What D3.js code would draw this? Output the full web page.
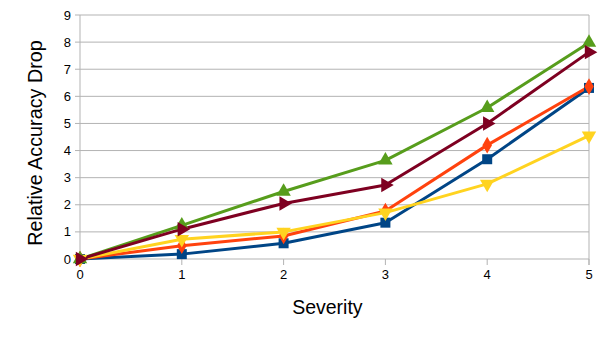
<!DOCTYPE html>
<html>
<head>
<meta charset="utf-8">
<script src="https://cdn.jsdelivr.net/npm/d3@7"></script>
<style>
  body { margin: 0; background: #fff; }
  svg { display: block; font-family: "Liberation Sans", Arial, sans-serif; }
</style>
</head>
<body>
<svg id="chart" width="605" height="340"></svg>
<script>
const severity = [0, 1, 2, 3, 4, 5];
const yTicks = [0, 1, 2, 3, 4, 5, 6, 7, 8, 9];

const seriesBlue = [0, 0.18, 0.58, 1.34, 3.68, 6.31];
const seriesOrange = [0, 0.49, 0.85, 1.77, 4.2, 6.36];
const seriesYellow = [0, 0.73, 1.0, 1.71, 2.77, 4.55];
const seriesGreen = [0, 1.24, 2.49, 3.64, 5.58, 7.98];
const seriesRed = [0, 1.1, 2.05, 2.73, 5.0, 7.63];

const series = [
    { values: seriesBlue, color: "#004586", marker: "square" },
    { values: seriesOrange, color: "#ff420e", marker: "diamond" },
    { values: seriesYellow, color: "#ffd320", marker: "down" },
    { values: seriesGreen, color: "#579d1c", marker: "up" },
    { values: seriesRed, color: "#7e0021", marker: "right" }
];

const svg = d3.select("#chart");
const plotLeft = 80, plotRight = 589, plotTop = 15, plotBottom = 259;

const x = d3.scaleLinear().domain([0, 5]).range([plotLeft, plotRight]);
const y = d3.scaleLinear().domain([0, 9]).range([plotBottom, plotTop]);

// Grid lines
svg.append("g")
    .selectAll("line")
    .data(yTicks)
    .enter()
    .append("line")
    .attr("x1", plotLeft - 5)
    .attr("x2", plotRight)
    .attr("y1", d => y(d))
    .attr("y2", d => y(d))
    .attr("stroke", "#b3b3b3")
    .attr("stroke-width", 1);

// Vertical edges
[plotLeft, plotRight].forEach(px => {
    svg.append("line")
        .attr("x1", px).attr("x2", px)
        .attr("y1", plotTop).attr("y2", plotBottom + 6)
        .attr("stroke", "#b3b3b3");
});

// X ticks
svg.append("g")
    .selectAll("line")
    .data(severity)
    .enter()
    .append("line")
    .attr("x1", d => x(d))
    .attr("x2", d => x(d))
    .attr("y1", plotBottom)
    .attr("y2", plotBottom + 6)
    .attr("stroke", "#b3b3b3");

// Tick labels
svg.append("g")
    .selectAll("text")
    .data(yTicks)
    .enter()
    .append("text")
    .attr("x", plotLeft - 9)
    .attr("y", d => y(d))
    .attr("dy", "0.35em")
    .attr("text-anchor", "end")
    .attr("font-size", 13)
    .attr("fill", "#000")
    .text(d => d);

svg.append("g")
    .selectAll("text")
    .data(severity)
    .enter()
    .append("text")
    .attr("x", d => x(d))
    .attr("y", plotBottom + 20)
    .attr("text-anchor", "middle")
    .attr("font-size", 13)
    .attr("fill", "#000")
    .text(d => d);

// Axis titles
svg.append("text")
    .attr("x", x(2.43))
    .attr("y", 314)
    .attr("text-anchor", "middle")
    .attr("font-size", 19.5)
    .text("Severity");

svg.append("text")
    .attr("transform", "translate(42, 143) rotate(-90)")
    .attr("text-anchor", "middle")
    .attr("font-size", 19.8)
    .text("Relative Accuracy Drop");

// Lines
const line = d3.line()
    .x((d, i) => x(severity[i]))
    .y(d => y(d));

series.forEach(s => {
    svg.append("path")
        .datum(s.values)
        .attr("d", line)
        .attr("fill", "none")
        .attr("stroke", s.color)
        .attr("stroke-width", 3)
        .attr("stroke-linejoin", "round");
});

// Markers
const markerPath = {
    square: d3.symbol().type(d3.symbolSquare).size(100)(),
    diamond: d3.symbol().type(d3.symbolDiamond).size(80)(),
    up: d3.symbol().type(d3.symbolTriangle).size(90)(),
    down: d3.symbol().type(d3.symbolTriangle).size(90)(),
    right: d3.symbol().type(d3.symbolTriangle).size(90)()
};
const markerRotate = { square: 0, diamond: 0, up: 0, down: 180, right: 90 };

series.forEach(s => {
    svg.append("g")
        .selectAll("path")
        .data(s.values)
        .enter()
        .append("path")
        .attr("d", markerPath[s.marker])
        .attr("transform", (d, i) => `translate(${x(severity[i])},${y(d)}) rotate(${markerRotate[s.marker]})`)
        .attr("fill", s.color);
});
</script>
</body>
</html>
